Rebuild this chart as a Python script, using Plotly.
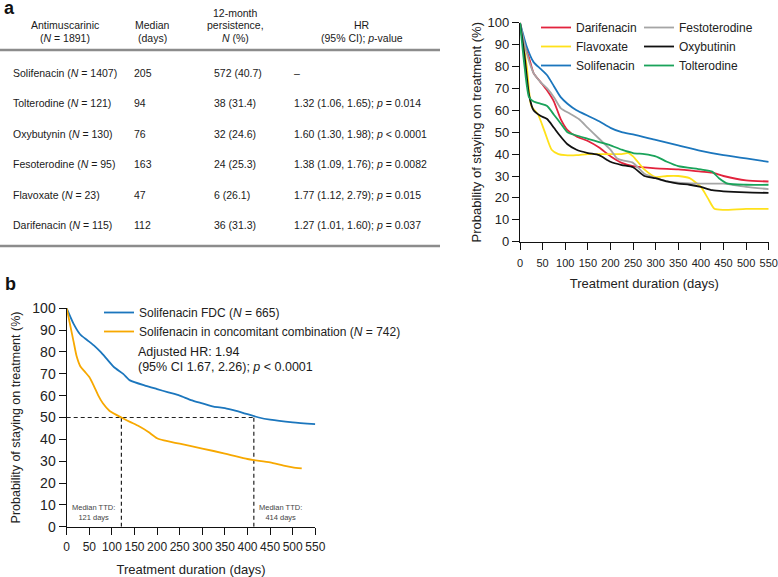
import plotly.graph_objects as go

W, H = 778, 577

# ---------------- panel a: table ----------------
drugs = ["Solifenacin", "Tolterodine", "Oxybutynin", "Fesoterodine", "Flavoxate", "Darifenacin"]
n_pat = [1407, 121, 130, 95, 23, 115]
median_days = [205, 94, 76, 163, 47, 112]
persist_n = [572, 38, 32, 24, 6, 36]
persist_pct = [40.7, 31.4, 24.6, 25.3, 26.1, 31.3]
hr = [None, 1.32, 1.60, 1.38, 1.77, 1.27]
hr_lo = [None, 1.06, 1.30, 1.09, 1.12, 1.01]
hr_hi = [None, 1.65, 1.98, 1.76, 2.79, 1.60]
p_val = [None, "= 0.014", "< 0.0001", "= 0.0082", "= 0.015", "= 0.037"]

# ---------------- panel a: curves ----------------
dari_d = [0, 10, 20, 30, 45, 60, 75, 90, 105, 125, 150, 175, 200, 225, 250, 300, 350, 400, 425, 450, 500, 550]
dari_p = [100, 90, 84, 77, 73, 69, 64, 56, 51, 48, 46, 43, 39, 36, 34.5, 33.5, 33, 32, 31.5, 30, 28, 27.5]

feso_d = [0, 15, 30, 45, 60, 75, 90, 110, 130, 150, 175, 200, 215, 230, 250, 275, 300, 325, 350, 400, 450, 500, 550]
feso_p = [100, 86, 77, 73, 70, 66, 61, 58.5, 56, 52, 47, 42, 38, 37, 36, 31, 29, 27.5, 27, 26.5, 26.5, 25, 24]

flav_d = [0, 15, 25, 40, 55, 70, 85, 100, 125, 150, 175, 200, 225, 240, 250, 275, 300, 325, 350, 375, 400, 415, 430, 450, 500, 550]
flav_p = [100, 80, 62, 58, 50, 42, 40, 39.5, 39.5, 40, 40, 40, 40, 40.5, 39, 33, 29.5, 30, 30, 29, 25, 20, 15, 14.5, 15, 15]

oxy_d = [0, 10, 20, 30, 45, 60, 75, 90, 105, 125, 150, 175, 200, 225, 250, 275, 300, 325, 350, 375, 400, 425, 450, 500, 550]
oxy_p = [100, 85, 67, 60, 57.5, 56, 52, 48, 44.5, 42, 40.5, 39.5, 36.5, 35, 34, 30, 29, 27.5, 26.5, 26, 25, 23.5, 23, 22.5, 22.3]

soli_d = [0, 15, 30, 45, 60, 75, 90, 105, 125, 150, 175, 200, 225, 250, 300, 350, 400, 450, 500, 550]
soli_p = [100, 89, 82, 79, 76, 71, 66, 63, 60, 57.5, 55, 52, 50, 49, 46.5, 44, 41.5, 39.5, 38, 36.5]

tolt_d = [0, 10, 20, 30, 45, 60, 75, 90, 105, 125, 150, 175, 200, 225, 250, 275, 300, 325, 350, 400, 425, 440, 460, 500, 550]
tolt_p = [100, 80, 66, 64, 63, 62, 58, 54, 50, 48.5, 47, 45.5, 44, 42, 40.5, 40, 39, 36.5, 34.5, 33, 32, 29, 26.5, 26, 26]

# ---------------- panel b: curves ----------------
fdc_d = [0, 15, 30, 45, 60, 75, 90, 105, 125, 140, 175, 200, 225, 250, 275, 300, 325, 350, 375, 400, 425, 450, 500, 550]
fdc_p = [100, 93, 88, 85.5, 83, 80, 76.5, 73, 70, 67, 64.5, 63, 61.5, 60, 58, 56.5, 55, 54.3, 53, 51.5, 50, 49, 47.8, 47]

conc_d = [0, 8, 15, 22, 30, 40, 50, 60, 70, 80, 95, 121, 140, 160, 180, 200, 215, 250, 300, 350, 400, 414, 450, 480, 500, 520]
conc_p = [100, 92, 85, 78, 73.5, 71, 68.5, 64.5, 60, 56.5, 53, 50, 48, 46, 43.5, 40.5, 39.5, 38, 35.8, 33.5, 31, 30.5, 29.5, 28, 27.2, 26.7]

median_ttd = [121, 414]
median_level = 50

x_ticks = list(range(0, 551, 50))
y_ticks = list(range(0, 101, 10))


def xp(px):
    return px / W


def yp(py):
    return 1 - py / H


FONT = "Liberation Sans, Arial, sans-serif"
fig = go.Figure()

top_series = [
    ("Darifenacin", dari_d, dari_p, "#e2233d", "legend"),
    ("Flavoxate", flav_d, flav_p, "#ffe11a", "legend"),
    ("Solifenacin", soli_d, soli_p, "#1b76bd", "legend"),
    ("Festoterodine", feso_d, feso_p, "#a5a5a5", "legend2"),
    ("Oxybutinin", oxy_d, oxy_p, "#111111", "legend2"),
    ("Tolterodine", tolt_d, tolt_p, "#1aa35a", "legend2"),
]
for name, d, p, col, lg in top_series:
    fig.add_trace(go.Scatter(x=d, y=p, mode="lines", name=name, legend=lg,
                             line=dict(color=col, width=1.8, shape="spline", smoothing=0.6),
                             xaxis="x", yaxis="y"))

# dashed median guides (panel b)
fig.add_trace(go.Scatter(x=[0, max(median_ttd)], y=[median_level, median_level], mode="lines",
                         showlegend=False, line=dict(color="#222", width=1.2, dash="4px,3px"),
                         xaxis="x2", yaxis="y2"))
for m in median_ttd:
    fig.add_trace(go.Scatter(x=[m, m], y=[0, median_level], mode="lines", showlegend=False,
                             line=dict(color="#222", width=1.2, dash="4px,3px"),
                             xaxis="x2", yaxis="y2"))

fig.add_trace(go.Scatter(x=fdc_d, y=fdc_p, mode="lines", legend="legend3",
                         name="Solifenacin FDC (<i>N</i> = 665)",
                         line=dict(color="#1b76bd", width=1.8, shape="spline", smoothing=0.6),
                         xaxis="x2", yaxis="y2"))
fig.add_trace(go.Scatter(x=conc_d, y=conc_p, mode="lines", legend="legend3",
                         name="Solifenacin in concomitant combination (<i>N</i> = 742)",
                         line=dict(color="#f7a800", width=1.8, shape="spline", smoothing=0.6),
                         xaxis="x2", yaxis="y2"))

ax_common = dict(showline=True, linecolor="#111", linewidth=1.4, ticks="outside", ticklen=7,
                 tickcolor="#111", tickwidth=1.2, showgrid=False, zeroline=False,
                 automargin=False, tickangle=0,
                 tickfont=dict(family=FONT, size=12, color="#222"))

ytitle = "Probability of staying on treatment (%)"
xtitle = "Treatment duration (days)"

fig.update_layout(
    width=W, height=H, margin=dict(l=0, r=0, t=0, b=0),
    paper_bgcolor="white", plot_bgcolor="white",
    font=dict(family=FONT, color="#222"),
    xaxis=dict(ax_common, domain=[xp(520), xp(768.7)], range=[0, 550], tickvals=x_ticks,
               anchor="y", ticklabelstandoff=4, tickfont=dict(family=FONT, size=11, color="#222"),
               title=dict(text=xtitle, font=dict(size=13), standoff=10)),
    yaxis=dict(ax_common, domain=[yp(241.7), yp(22.7)], range=[0, 100], tickvals=y_ticks,
               anchor="x", tickfont=dict(family=FONT, size=13, color="#222"),
               title=dict(text=ytitle, font=dict(size=13), standoff=2)),
    xaxis2=dict(ax_common, domain=[xp(66.7), xp(315.3)], range=[0, 550], tickvals=x_ticks,
                anchor="y2", ticklabelstandoff=2, tickfont=dict(family=FONT, size=12, color="#222"),
                title=dict(text=xtitle, font=dict(size=13), standoff=11)),
    yaxis2=dict(ax_common, domain=[yp(526.7), yp(308.3)], range=[0, 100], tickvals=y_ticks,
                anchor="x2", tickfont=dict(family=FONT, size=14, color="#222"),
                title=dict(text=ytitle, font=dict(size=12.5), standoff=8)),
    legend=dict(x=xp(536), y=yp(13), xanchor="left", yanchor="top", bgcolor="rgba(0,0,0,0)",
                font=dict(size=12), tracegroupgap=0, itemwidth=30),
    legend2=dict(x=xp(639), y=yp(13), xanchor="left", yanchor="top", bgcolor="rgba(0,0,0,0)",
                 font=dict(size=12), tracegroupgap=0, itemwidth=30),
    legend3=dict(x=xp(99), y=yp(298), xanchor="left", yanchor="top", bgcolor="rgba(0,0,0,0)",
                 font=dict(size=12), tracegroupgap=0, itemwidth=30),
    showlegend=True,
)

ann = []


def text(px, py, s, size=10.5, align="left", anchor="left", **kw):
    if anchor == "left":
        px -= 2
    ann.append(dict(x=xp(px), y=yp(py), xref="paper", yref="paper", text=s, showarrow=False,
                    xanchor=anchor, yanchor="middle", align=align,
                    font=dict(family=FONT, size=size, color=kw.get("color", "#1a1a1a"),
                              weight=kw.get("weight", "normal"))))


# panel labels
text(4, 8, "a", size=18, weight="bold", color="#111")
text(5, 284, "b", size=18, weight="bold", color="#111")

# table header
header = [
    (65, ["Antimuscarinic", "(<i>N</i> = 1891)"], 25),
    (152, ["Median", "(days)"], 25),
    (235, ["12-month", "persistence,", "<i>N</i> (%)"], 12.5),
    (362, ["HR", "(95% CI); <i>p</i>-value"], 25),
]
for cx, lines, y0 in header:
    for i, ln in enumerate(lines):
        text(cx, y0 + 12.5 * i, ln, anchor="center")

row_y = [73 + 30.4 * i for i in range(len(drugs))]
for i, dname in enumerate(drugs):
    y = row_y[i]
    text(12.7, y, f"{dname} (<i>N</i> = {n_pat[i]})")
    text(134, y, str(median_days[i]))
    text(214, y, f"{persist_n[i]} ({persist_pct[i]:.1f})")
    if hr[i] is None:
        text(294, y, "–")
    else:
        text(294, y, f"{hr[i]:.2f} ({hr_lo[i]:.2f}, {hr_hi[i]:.2f}); <i>p</i> {p_val[i]}")

# panel b annotations
text(138.3, 351.7, "Adjusted HR: 1.94", size=12.5)
text(138.3, 366.7, "(95% CI 1.67, 2.26); <i>p</i> &lt; 0.0001", size=12.5)
for m, xc in zip(median_ttd, [60, 474]):
    ann.append(dict(x=xc, y=6.7, xref="x2", yref="y2", showarrow=False,
                    text=f"Median TTD:<br>{m} days", xanchor="center", yanchor="middle",
                    font=dict(family=FONT, size=7.5, color="#444")))

fig.update_layout(annotations=ann)

# table rules
for ry in [50, 246]:
    fig.add_shape(type="line", xref="paper", yref="paper", x0=0, x1=xp(440), y0=yp(ry), y1=yp(ry),
                  line=dict(color="#8c8c8c", width=2.5))

fig.write_html("out.html", config={"displayModeBar": False},
               post_script="document.body.style.margin='0px';")
